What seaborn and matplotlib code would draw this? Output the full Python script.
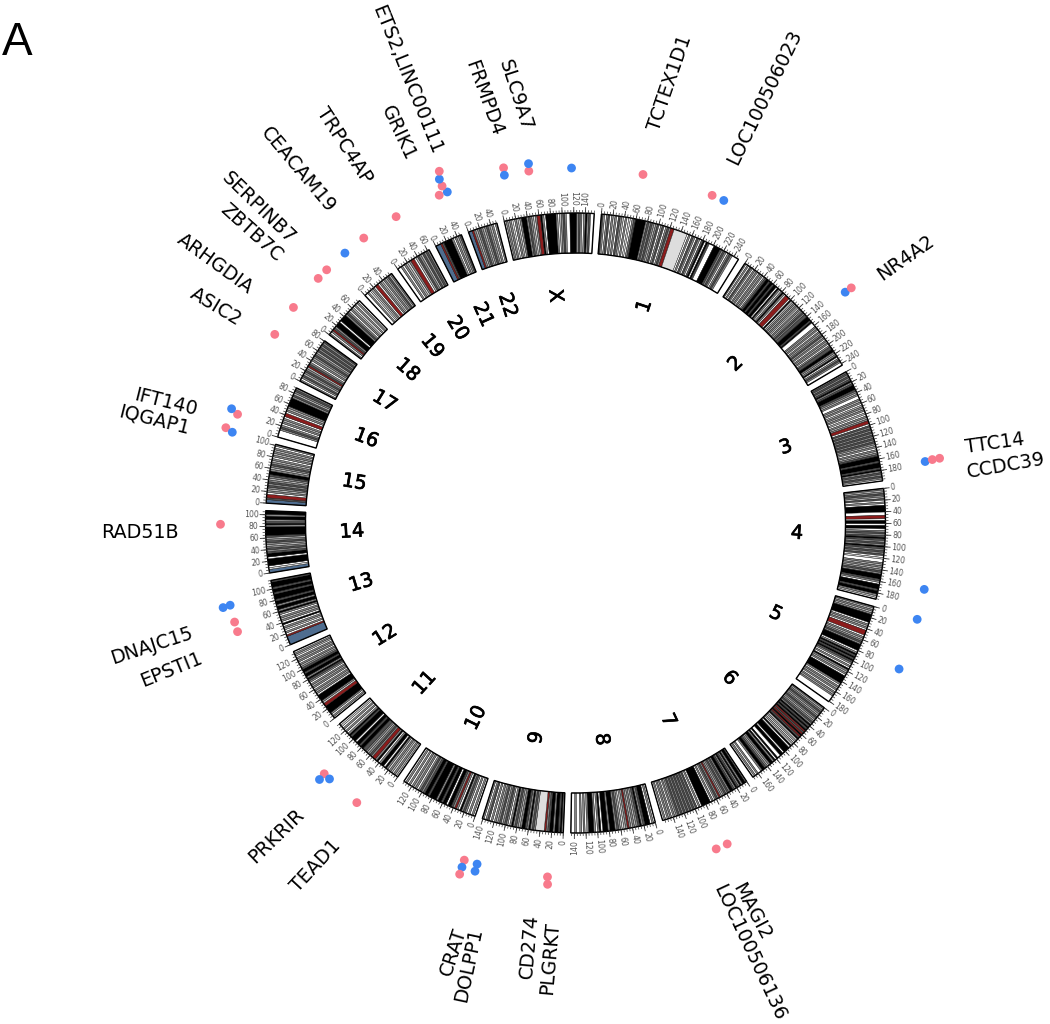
# -*- coding=utf-8 -*-
"""
    circular genome plot with gene hits around the ideogram
"""
import matplotlib.patheffects as pe
import matplotlib.pyplot as plt
import numpy as np
import pandas as pd
import seaborn as sns

chrom_names = ['1', '2', '3', '4', '5', '6', '7', '8', '9', '10', '11', '12', '13',
               '14', '15', '16', '17', '18', '19', '20', '21', '22', 'X']
chrom_len = [249, 243, 198, 191, 181, 171, 159, 146, 141, 136, 135, 134, 115,
             107, 102, 90, 81, 78, 59, 63, 48, 51, 155]

# stripes of every chromosome, from 0 to its end (read off by eye)
# w white, l light, s silver, g gray, d dark, k black, r centromere, b blue
chrom_bands = [
    'dgwgdwglgwdgswgwlwgdkkkkkkgdgdgsgdwgdwgdgrrllllllllwgwdgwdgwdkwkdwwwkkkkdgdgwgdgwwww',
    'gwgwdgwgsgwgsgwgdkkdkkdkkwkgwgkgwrrrwklsgsgslgsgdgddkkkdkwwwgsgwgsgdsgwgsgwgddkkgsgkwgdgww',
    'gdgdgdkgdkkkdgsgwwgsgwsgsgwswgsgrrwdgdgdgdgdgdgsgwgsgdkkkdkkkdkgdgdgw',
    'gsgdgsdwgwkkkkwwrrwkkwkkwgdgdkdgdgkdgdgdwlwwgsgsgdgkkkdgwkkkdkkgsw',
    'gsgsgkkkkkwgsgwrrrwgsgdgkkkkwgkdkdkdgwgwkgsgwkkkkkgwgsgwgsgwwww',
    'gsgdgsgdgsgdgkdkdkrdrkrdklslslkwkkkkwkkwwkwkgkkgsgdkkgwwgwgw',
    'gkkgkgdkgdkkgdgdgsgrgdgwgwkkkkkkwgwdgdgdgdgdgdgdgsgwgsgwgw',
    'wgwkkkdgkdgsgsgrgslsgdgkkkgkkkwkgwgkkkgwgwgwwgww',
    'gkdkkgkkdgrlllllgdgkgdkkgsgdgkgwgdgsdgsgwgwdgwg',
    'wgwgwgdgkwgrgdkkwkkdkkgkkkkdkkdgdgwgsgwgwgw',
    'lsglsglgkwkkgwkgrrgdgsgddkkdkkwkkkdkgwgwgwlw',
    'wgwgkkkkkrrlgkkkkwgsgwgsgwgdkgkkdkkdgsgwgsgwsgw',
    'bbbbbrwgwsgwkwgsgwgkgkkgkkdkkkdkkdkkkd',
    'bblwkkkkwkkdgdgsgdgsdkkkkkgkdgkkgkk',
    'bbdrrwgsgdgdgsgdkkgsgdgsgwgsgsgwg',
    'wwwwgdgwgsgwrrwgsgkkkkkgdsgdg',
    'gwgdsgdgsrdgwgsgdgsdgdgdgd',
    'gwgrdgkkkwkkkkgdgwgswgwgw',
    'wwgwlsgwrrwgslgsgdsg',
    'wwgwgslgrrwsdgsdgdg',
    'bbbrdkkkkkgwgsgd',
    'bbrgsgdgsgdgsgwg',
    'lgsglwgslgkkkgdgslgrrkgwkkkkkkgwsgdgwwkkkkgdgwgkgdww',
]

# gene hits, chromosome / position in Mb / stack level / cohort
hit_chrom = ['X', '1', '1', '1', '2', '2', '3', '3', '3', '4', '5', '5', '7', '7', '9', '9',
             '9', '9', '9', '9', '9', '11', '11', '11', '11', '13', '13', '13', '13', '14',
             '15', '15', '16', '16', '17', '18', '18', '18', '19', '19', '20',
             '21', '21', '21', '21', '21', 'X', 'X', 'X', 'X']
hit_pos = [117, 57, 165, 184, 151, 152, 178, 177, 177, 159, 1, 80, 94, 76, 21, 20,
           148, 148, 128, 148, 128, 93, 92, 82, 28, 49, 64, 90, 89, 84,
           107, 103, 16, 21, 45, 0, 57, 75, 21, 57, 43,
           39, 52, 48, 48, 52, 17, 16, 53, 54]
hit_level = [0, 0, 0, 0, 0, 1, 0, 1, 2, 0, 0, 0, 0, 0, 0, 1,
             0, 1, 0, 2, 1, 0, 1, 0, 0, 0, 0, 0, 1, 0,
             1, 0, 0, 1, 0, 0, 0, 0, 0, 0, 0,
             0, 0, 1, 2, 3, 1, 0, 0, 1]
hit_group = ['b', 'p', 'p', 'b', 'b', 'p', 'b', 'p', 'p', 'b', 'b', 'b', 'p', 'p', 'p', 'p',
             'p', 'b', 'b', 'p', 'b', 'p', 'b', 'b', 'p', 'p', 'p', 'b', 'b', 'p',
             'p', 'b', 'p', 'b', 'p', 'p', 'p', 'p', 'b', 'p', 'p',
             'p', 'b', 'p', 'b', 'p', 'p', 'b', 'p', 'b']

gene_names = ['LOC100506023', 'TCTEX1D1', 'SLC9A7', 'FRMPD4', 'ETS2,LINC00111', 'GRIK1',
              'TRPC4AP', 'CEACAM19', 'SERPINB7', 'ZBTB7C', 'ARHGDIA', 'ASIC2',
              'IFT140', 'IQGAP1', 'RAD51B', 'DNAJC15', 'EPSTI1', 'PRKRIR', 'TEAD1',
              'CRAT', 'DOLPP1', 'CD274', 'PLGRKT', 'MAGI2', 'LOC100506136',
              'TTC14', 'CCDC39', 'NR4A2']

# label placement in picture pixels: centre x, centre y, rotation
gene_place = [(765, 97, 64), (670, 83, 71), (515, 95, -72), (484, 98, -70), (407, 80, -68),
              (398, 133, -65), (344, 145, -57), (298, 170, -50), (259, 208, -44),
              (251, 233, -42), (215, 264, -36), (216, 307, -31), (166, 402, -14),
              (154, 420, -14), (140, 533, 0), (152, 646, 18), (171, 670, 22), (276, 836, 44),
              (316, 866, 47), (453, 952, 72), (469, 965, 78), (529, 946, 85), (550, 958, 85),
              (752, 912, -62), (749, 953, -65), (995, 443, 8), (1006, 466, 10), (906, 258, 35)]

WIDTH, HEIGHT = 1050, 1024
CX, CY = 575.5, 523
R_IN, R_OUT = 270, 310
DEG_PER_MB = 0.1081
GAP = 1.4
START = 4.8

band_colors = {'w': '#ffffff', 'l': '#dddddd', 's': '#b8b8b8', 'g': '#8a8a8a', 'd': '#505050',
               'k': '#000000', 'r': '#8b1c1c', 'b': '#4f6d8f'}
group_colors = {'p': '#f87a8c', 'b': '#3d85f2'}


def radial_rotation(deg):
    # text reads outwards on the right half, inwards on the left
    deg = deg % 360
    return 90 - deg if deg <= 180 else 270 - deg


def main():
    sns.set_theme(style="white")
    plt.rcParams['font.family'] = ['DejaVu Sans']
    fig = plt.figure(figsize=(WIDTH / 100, HEIGHT / 100), dpi=100, facecolor='white')
    ax = fig.add_axes([(CX - 500) / WIDTH, (HEIGHT - CY - 500) / HEIGHT, 1000 / WIDTH, 1000 / HEIGHT],
                      projection='polar')
    ax.set_theta_zero_location('N')
    ax.set_theta_direction(-1)

    starts = {}
    deg = START
    for name, length, bands in zip(chrom_names, chrom_len, chrom_bands):
        starts[name] = deg
        step = length / len(bands)
        # merge equal neighbours so that solid bands stay clean
        i = 0
        while i < len(bands):
            j = i
            while j < len(bands) and bands[j] == bands[i]:
                j += 1
            th0 = deg + i * step * DEG_PER_MB
            wid = (j - i) * step * DEG_PER_MB
            ax.bar(np.radians(th0), R_OUT - R_IN, width=np.radians(wid), bottom=R_IN, align='edge',
                   color=band_colors[bands[i]], edgecolor='#111111', linewidth=0.3)
            i = j
        ax.bar(np.radians(deg), R_OUT - R_IN, width=np.radians(length * DEG_PER_MB), bottom=R_IN,
               align='edge', fill=False, edgecolor='black', linewidth=1.0)

        # scale around the ring
        ticks = np.arange(0, length + 1, 5)
        ax.vlines(np.radians(deg + ticks * DEG_PER_MB), R_OUT, R_OUT + 3, color='#333333', linewidth=0.5)
        for mb in range(0, length + 1, 20):
            th = deg + mb * DEG_PER_MB
            ax.vlines(np.radians(th), R_OUT, R_OUT + 6, color='#333333', linewidth=0.6)
            rot = radial_rotation(th)
            right = th % 360 <= 180
            ax.text(np.radians(th), R_OUT + 7, str(mb), fontsize=5.6, color='#555555', rotation=rot,
                    rotation_mode='anchor', ha='left' if right else 'right', va='center')

        mid = deg + length * DEG_PER_MB / 2
        ax.annotate(name, xy=(np.radians(mid), 223), xytext=(-1, 5), textcoords='offset pixels',
                    fontsize=14, color='black', rotation=radial_rotation(mid), rotation_mode='anchor',
                    ha='center', va='center',
                    path_effects=[pe.withStroke(linewidth=0.5, foreground='black')])
        deg += length * DEG_PER_MB + GAP

    hits = pd.DataFrame({'chrom': hit_chrom, 'pos': hit_pos, 'level': hit_level, 'group': hit_group})
    hits['theta'] = np.radians(hits['chrom'].map(starts) + hits['pos'] * DEG_PER_MB)
    hits['r'] = 355 + hits['level'] * 7.4
    sns.scatterplot(data=hits, x='theta', y='r', hue='group', palette=group_colors, s=40,
                    linewidth=0, legend=False, ax=ax, zorder=5)
    ax.set_ylim(0, 500)
    ax.set_xlabel('')
    ax.set_ylabel('')
    ax.axis('off')

    for name, (x, y, rot) in zip(gene_names, gene_place):
        fig.text(x / WIDTH, 1 - y / HEIGHT, name, fontsize=13.8, color='black', rotation=rot,
                 rotation_mode='anchor', ha='center', va='center')
    fig.text(2 / WIDTH, 1 - 55 / HEIGHT, 'A', fontsize=33, family='Liberation Sans', color='black',
             ha='left', va='baseline')

    plt.savefig('out.png', format='png', dpi=100)
    plt.close()


if __name__ == '__main__':
    main()
